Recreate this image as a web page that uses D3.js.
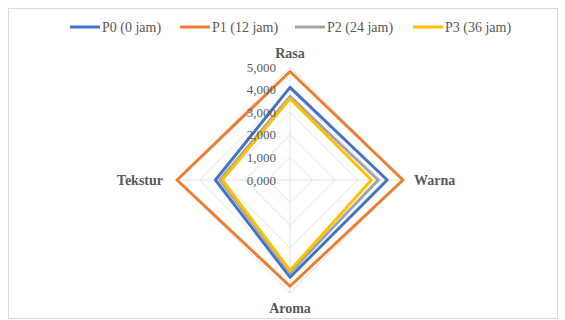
<!DOCTYPE html>
<html>
<head>
<meta charset="utf-8">
<script src="https://cdn.jsdelivr.net/npm/d3@7"></script>
<style>
  html, body { margin: 0; padding: 0; background: #fff; }
  svg { display: block; }
</style>
</head>
<body>
<svg id="chart" width="565" height="320"></svg>
<script>
// Sensory attributes (radar axes, clockwise from the top)
const categories = ["Rasa", "Warna", "Aroma", "Tekstur"];

// Mean scores per fermentation time
const seriesNames = ["P0 (0 jam)", "P1 (12 jam)", "P2 (24 jam)", "P3 (36 jam)"];
const p0 = [4.1, 4.3, 4.3, 3.3];
const p1 = [4.8, 5.0, 4.7, 5.0];
const p2 = [3.7, 3.9, 4.1, 3.1];
const p3 = [3.6, 3.6, 4.0, 3.0];
const seriesColors = ["#4472C4", "#ED7D31", "#A5A5A5", "#FFC000"];

// Radial axis ticks
const tickValues = [0, 1, 2, 3, 4, 5];
const tickLabels = ["0,000", "1,000", "2,000", "3,000", "4,000", "5,000"];

const FONT = '"Liberation Serif"';

const series = seriesNames.map((name, i) => ({
  name, color: seriesColors[i], values: [p0, p1, p2, p3][i]
}));

const svg = d3.select("#chart");
const cx = 290, cy = 180;

// Chart area frame
svg.append("rect")
  .attr("x", 8.5).attr("y", 8.5).attr("width", 549).attr("height", 310)
  .attr("fill", "#fff").attr("stroke", "#d9d9d9").attr("stroke-width", 1);

const r = d3.scaleLinear().domain([0, 5]).range([0, 113]);
const angle = d3.scalePoint().domain(categories).range([0, 2 * Math.PI * 3 / 4]);

const g = svg.append("g").attr("transform", `translate(${cx},${cy})`);

// Grid polygons
const gridLine = d3.lineRadial()
  .angle(d => angle(d))
  .curve(d3.curveLinearClosed);
g.append("g").selectAll("path")
  .data(tickValues.filter(v => v > 0))
  .join("path")
  .attr("d", v => gridLine.radius(() => r(v))(categories))
  .attr("fill", "none")
  .attr("stroke", "#e3e3e3")
  .attr("stroke-width", 1);

// Spokes
g.append("g").selectAll("line")
  .data(categories)
  .join("line")
  .attr("x1", 0).attr("y1", 0)
  .attr("x2", c => r(5) * Math.sin(angle(c)))
  .attr("y2", c => -r(5) * Math.cos(angle(c)))
  .attr("stroke", "#e3e3e3")
  .attr("stroke-width", 1);

// Series polygons
const seriesLine = d3.lineRadial()
  .angle((d, i) => angle(categories[i]))
  .radius(d => r(d))
  .curve(d3.curveLinearClosed);
g.append("g").selectAll("path")
  .data(series)
  .join("path")
  .attr("d", s => seriesLine(s.values))
  .attr("fill", "none")
  .attr("stroke", s => s.color)
  .attr("stroke-width", 3)
  .attr("stroke-linejoin", "round");

// Radial tick labels
g.append("g").selectAll("text")
  .data(tickValues)
  .join("text")
  .attr("x", -14)
  .attr("y", v => -r(v))
  .attr("dy", "0.35em")
  .attr("text-anchor", "end")
  .attr("font-size", 13)
  .attr("fill", "#595959")
  .style("font-family", FONT)
  .text((v, i) => tickLabels[i]);

// Category labels
const labelPos = {
  "Rasa":    { x: 0, y: -127, anchor: "middle" },
  "Warna":   { x: 124, y: 0, anchor: "start" },
  "Aroma":   { x: 0, y: 128, anchor: "middle" },
  "Tekstur": { x: -127, y: 0, anchor: "end" }
};
g.append("g").selectAll("text")
  .data(categories)
  .join("text")
  .attr("x", c => labelPos[c].x)
  .attr("y", c => labelPos[c].y)
  .attr("dy", "0.35em")
  .attr("text-anchor", c => labelPos[c].anchor)
  .attr("font-size", 14)
  .attr("font-weight", "bold")
  .attr("fill", "#595959")
  .style("font-family", FONT)
  .text(c => c);

// Legend
const legendX = [70, 180, 295, 413];
const legend = svg.append("g").selectAll("g")
  .data(series)
  .join("g")
  .attr("transform", (s, i) => `translate(${legendX[i]},27)`);
legend.append("line")
  .attr("x1", 0).attr("x2", 30).attr("y1", 0).attr("y2", 0)
  .attr("stroke", s => s.color).attr("stroke-width", 3);
legend.append("text")
  .attr("x", 32).attr("dy", "0.35em")
  .attr("font-size", 14)
  .attr("fill", "#595959")
  .style("font-family", FONT)
  .text(s => s.name);
</script>
</body>
</html>
